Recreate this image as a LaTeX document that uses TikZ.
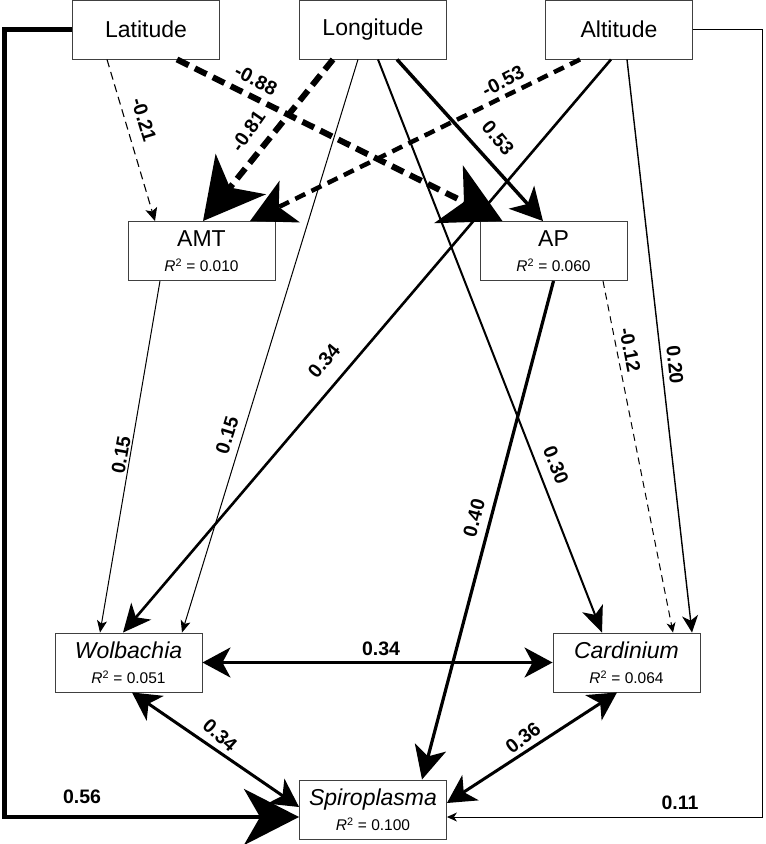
\documentclass[tikz,border=0pt]{standalone}
\usepackage{fontspec}
\setmainfont{Liberation Sans}
\usepackage{tikz}
\usetikzlibrary{positioning, arrows.meta}

\newcommand{\rsq}[1]{{\fontsize{15.5}{17}\selectfont\textit{R}\textsuperscript{2} = #1}}

\begin{document}
\begin{tikzpicture}[x=1pt, y=-1pt,
    var/.style={draw=black!75, line width=0.9pt, minimum width=147pt, minimum height=59pt,
        inner sep=0pt, align=center, font=\fontsize{23}{25}\selectfont},
    coef/.style={font=\bfseries\fontsize{19.5}{21}\selectfont, inner sep=0pt},
    weakpath/.style={line width=1pt, -{Stealth[length=12pt, width=10pt, inset=3pt]}},
    midpath/.style={line width=2pt, -{Stealth[length=26pt, width=22pt, inset=7pt]}},
    strongpath/.style={line width=3.2pt, -{Stealth[length=33pt, width=32pt, inset=9pt]}},
    negweak/.style={line width=1.1pt, dash pattern=on 8pt off 5pt, -{Stealth[length=13pt, width=12pt, inset=3pt]}},
    negstrong/.style={line width=6pt, dash pattern=on 13pt off 7pt, -{Stealth[length=60pt, width=64pt, inset=17pt]}},
    covpath/.style={line width=3pt, {Stealth[length=28pt, width=30pt, inset=8pt]}-{Stealth[length=28pt, width=30pt, inset=8pt]}}
]
    \useasboundingbox (0,0) rectangle (766,844);

    % exogenous
    \node[var] (lat) at (146,29.5) {Latitude};
    \node[var] (lon) at (373,29.5) {Longitude};
    \node[var] (alt) at (619,29.5) {Altitude};
    % climate
    \node[var] (amt) at (201.5,251) {AMT\\\rsq{0.010}};
    \node[var] (ap) at (553.5,251) {AP\\\rsq{0.060}};
    % symbionts
    \node[var] (wol) at (128.5,662.5) {\textit{Wolbachia}\\\rsq{0.051}};
    \node[var] (car) at (626.5,662.5) {\textit{Cardinium}\\\rsq{0.064}};
    \node[var] (spi) at (373,809.5) {\textit{Spiroplasma}\\\rsq{0.100}};

    \coordinate (leftrail) at (4.5,0);
    \coordinate (rightrail) at (762,0);

    % paths to AMT and AP
    \draw[negweak] ([xshift=-39pt]lat.south) -- ([xshift=-46.5pt]amt.north);
    \draw[negstrong] ([xshift=31pt]lat.south) -- ([xshift=-51pt]ap.north);
    \draw[negstrong] ([xshift=-40pt]lon.south) -- ([xshift=1.5pt]amt.north);
    \draw[line width=4.5pt, dash pattern=on 11pt off 7pt, -{Stealth[length=44pt, width=46pt, inset=12pt]}]
        ([xshift=-39pt]alt.south) -- ([xshift=48.5pt]amt.north);
    \draw[line width=3.5pt, -{Stealth[length=32pt, width=34pt, inset=9pt]}]
        ([xshift=24pt]lon.south) -- ([xshift=-10.5pt]ap.north);

    % paths to symbionts
    \draw[weakpath] ([xshift=-41.5pt]amt.south) -- ([xshift=-28.5pt]wol.north);
    \draw[weakpath] ([xshift=-15pt]lon.south) -- ([xshift=53.5pt]wol.north);
    \draw[line width=2.6pt, -{Stealth[length=28pt, width=26pt, inset=8pt]}]
        ([xshift=-8pt]alt.south) -- ([xshift=-5.5pt]wol.north);
    \draw[midpath] ([xshift=5pt]lon.south) -- ([xshift=-24.5pt]car.north);
    \draw[line width=1.4pt, -{Stealth[length=17pt, width=16pt, inset=5pt]}]
        ([xshift=8pt]alt.south) -- ([xshift=65.5pt]car.north);
    \draw[line width=1pt, dash pattern=on 7pt off 5pt, -{Stealth[length=10pt, width=9pt, inset=3pt]}]
        ([xshift=49.5pt]ap.south) -- ([xshift=46.5pt]car.north);
    \draw[strongpath] (ap.south) -- ([xshift=49pt]spi.north);
    \draw[line width=4.5pt, -{Stealth[length=55pt, width=56pt, inset=16pt]}]
        (lat.west) -- (lat.west -| leftrail) |- ([yshift=-7.5pt]spi.west);
    \draw[line width=1pt, -{Stealth[length=10pt, width=9pt, inset=3pt]}]
        (alt.east) -- (alt.east -| rightrail) |- ([yshift=-7.5pt]spi.east);

    % covariances
    \draw[covpath] (wol.east) -- (car.west);
    \draw[covpath] ([xshift=3.5pt]wol.south) -- ([yshift=2.5pt]spi.west);
    \draw[covpath] ([xshift=-9.5pt]car.south) -- ([yshift=6.5pt]spi.east);

    % coefficients
    \node[coef, rotate=-73] (k1) at (144,120) {-0.21};
    \node[coef, rotate=-27] (k2) at (256,80) {-0.88};
    \node[coef, rotate=55] (k3) at (248,131) {-0.81};
    \node[coef, rotate=27] (k4) at (503,81) {-0.53};
    \node[coef, rotate=-50] (k5) at (498,138) {0.53};
    \node[coef, rotate=80] (k6) at (121,455) {0.15};
    \node[coef, rotate=73] (k7) at (227,435) {0.15};
    \node[coef, rotate=50] (k8) at (324,361) {0.34};
    \node[coef, rotate=-68] (k9) at (556,465) {0.30};
    \node[coef, rotate=-79] (k10) at (630,350) {-0.12};
    \node[coef, rotate=-84] (k11) at (675,365) {0.20};
    \node[coef, rotate=75] (k12) at (474,518) {0.40};
    \node[coef] (k13) at (381,649) {0.34};
    \node[coef, rotate=-42] (k14) at (220,735) {0.34};
    \node[coef, rotate=38] (k15) at (523,738) {0.36};
    \node[coef] (k16) at (82,797) {0.56};
    \node[coef] (k17) at (680,803) {0.11};
\end{tikzpicture}
\end{document}
